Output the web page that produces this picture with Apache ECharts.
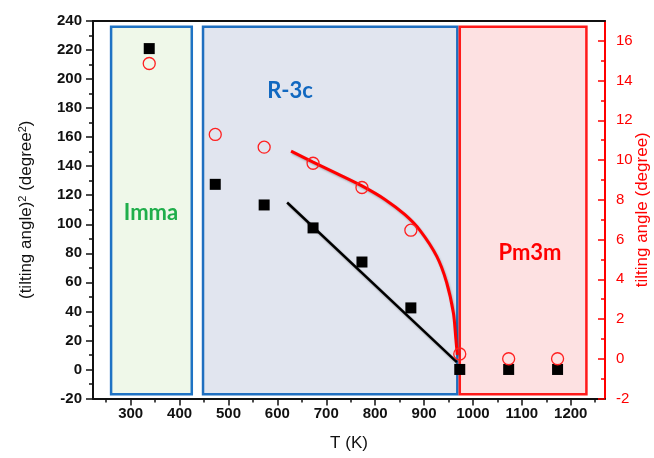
<!DOCTYPE html>
<html><head><meta charset="utf-8">
<script src="https://cdn.jsdelivr.net/npm/echarts@6/dist/echarts.min.js"></script>
<style>html,body{margin:0;padding:0;background:#fff}#c{width:654px;height:458px}</style>
</head><body><div id="c"></div>
<script>
// ---- data ----
const temps = [338, 473, 573, 673, 773, 873, 973, 1073, 1173];
const tiltSquared = [221, 127.5, 113.3, 97.5, 74, 42.4, 0, 0, 0];
const tiltAngle = [14.86, 11.29, 10.65, 9.84, 8.62, 6.47, 0.24, 0, 0];
const fitLineT = [620, 967];
const fitLineY = [115, 5];
const curveT = [628, 673, 722, 773, 820, 861, 892, 926, 946, 960, 965, 968];
const curveY = [10.45, 9.90, 9.32, 8.70, 8.02, 7.25, 6.45, 5.15, 3.85, 2.30, 1.00, 0.20];
const phaseNames = ['Imma', 'R-3c', 'Pm3m'];
const phaseT0 = [260, 448, 973];
const phaseT1 = [425, 968, 1232];
const phaseTop = [236, 236, 236];
const phaseBottom = [-17, -17, -17];
const xTickLabels = [300, 400, 500, 600, 700, 800, 900, 1000, 1100, 1200];
const xMinorTicks = [250, 350, 450, 550, 650, 750, 850, 950, 1050, 1150, 1250];
const rightTickLabels = [-2, 0, 2, 4, 6, 8, 10, 12, 14, 16];
const rightMinorTicks = [-1, 1, 3, 5, 7, 9, 11, 13, 15];

// ---- styles ----
const phaseFill = ['#eff8e9', '#e1e5ef', '#fde1e2'];
const phaseBorder = ['#1f73c4', '#1f6fc0', '#ff1a1a'];
const phaseTextColor = ['#1fae4b', '#1168c0', '#ff0000'];
const phaseTextPos = [[151, 213], [290, 91], [530, 253]];

const X_MIN = 223, X_MAX = 1270;
const chart = echarts.init(document.getElementById('c'), null, {renderer: 'canvas'});

const markAreaData = phaseNames.map((n, i) => [
  {xAxis: phaseT0[i], yAxis: phaseTop[i], itemStyle: {color: phaseFill[i], borderColor: phaseBorder[i], borderWidth: 2.5, opacity: 1}},
  {xAxis: phaseT1[i], yAxis: phaseBottom[i]}
]);

const option = {
  animation: false,
  backgroundColor: '#fff',
  grid: {left: 93, right: 49, top: 21, bottom: 59.5, containLabel: false, outerBoundsMode: 'none'},
  xAxis: [
    {
      type: 'value', min: X_MIN, max: X_MAX, position: 'bottom',
      name: 'T (K)', nameLocation: 'middle', nameGap: 36, nameMoveOverlap: false,
      nameTextStyle: {fontFamily: 'Liberation Sans', fontSize: 17, color: '#111'},
      axisLine: {show: true, onZero: false, lineStyle: {color: '#111', width: 2}},
      axisTick: {show: true, inside: false, length: 7, lineStyle: {color: '#111', width: 1.5}, customValues: xTickLabels},
      axisLabel: {show: true, margin: 8, fontFamily: 'Liberation Sans', fontWeight: 'bold', fontSize: 15, color: '#111',
        customValues: xTickLabels, formatter: v => String(v)},
      splitLine: {show: false}
    },
    {
      type: 'value', min: X_MIN, max: X_MAX, position: 'bottom',
      axisLine: {show: false, onZero: false},
      axisTick: {show: true, inside: false, length: 4, lineStyle: {color: '#111', width: 1.5}, customValues: xMinorTicks},
      axisLabel: {show: false}, splitLine: {show: false}
    },
    {
      type: 'value', min: X_MIN, max: X_MAX, position: 'top',
      axisLine: {show: true, onZero: false, lineStyle: {color: '#111', width: 2}},
      axisTick: {show: false}, axisLabel: {show: false}, splitLine: {show: false}
    }
  ],
  yAxis: [
    {
      type: 'value', min: -20, max: 240, interval: 20, position: 'left',
      name: '(tilting angle){s|2} (degree{s|2})', nameLocation: 'middle', nameGap: 57, nameRotate: 90, nameMoveOverlap: false,
      nameTextStyle: {fontFamily: 'Liberation Sans', fontSize: 17, color: '#111',
        rich: {s: {fontFamily: 'Liberation Sans', fontSize: 11, color: '#111', verticalAlign: 'bottom', padding: [0, 0, 8, 0]}}},
      axisLine: {show: true, onZero: false, lineStyle: {color: '#111', width: 2}},
      axisTick: {show: true, inside: false, length: 7, lineStyle: {color: '#111', width: 1.5}},
      minorTick: {show: true, splitNumber: 2, length: 4, lineStyle: {color: '#111', width: 1.5}},
      axisLabel: {margin: 11, fontFamily: 'Liberation Sans', fontWeight: 'bold', fontSize: 15, color: '#111'},
      splitLine: {show: false}, minorSplitLine: {show: false}
    },
    {
      type: 'value', min: -2, max: 17, position: 'right',
      name: 'tilting angle (degree)', nameLocation: 'middle', nameGap: 29, nameRotate: 90, nameMoveOverlap: false,
      nameTextStyle: {fontFamily: 'Liberation Sans', fontSize: 17, color: '#ff0000'},
      axisLine: {show: true, onZero: false, lineStyle: {color: '#ff0000', width: 2}},
      axisTick: {show: true, inside: true, length: 7, lineStyle: {color: '#ff0000', width: 1.5}, customValues: rightTickLabels},
      axisLabel: {margin: 11, fontFamily: 'Liberation Sans', fontSize: 15, color: '#ff0000', customValues: rightTickLabels},
      splitLine: {show: false}
    },
    {
      type: 'value', min: -2, max: 17, position: 'right',
      axisLine: {show: false, onZero: false},
      axisTick: {show: true, inside: true, length: 4, lineStyle: {color: '#ff0000', width: 1.5}, customValues: rightMinorTicks},
      axisLabel: {show: false}, splitLine: {show: false}
    }
  ],
  graphic: phaseNames.map((n, i) => ({
    type: 'text', x: phaseTextPos[i][0], y: phaseTextPos[i][1], z: 100,
    style: {text: n, fill: phaseTextColor[i], font: 'bold 22px Lato', align: 'center', verticalAlign: 'middle'}
  })),
  series: [
    {
      type: 'scatter', xAxisIndex: 0, yAxisIndex: 0, data: [], z: 1, silent: true,
      markArea: {silent: true, data: markAreaData}
    },
    {
      type: 'line', xAxisIndex: 0, yAxisIndex: 0, z: 5, symbol: 'none',
      data: fitLineT.map((t, i) => [t, fitLineY[i]]),
      lineStyle: {color: '#000', width: 2.5, shadowColor: 'rgba(0,0,0,0.3)', shadowBlur: 2, shadowOffsetX: 1, shadowOffsetY: 1.5}
    },
    {
      type: 'line', xAxisIndex: 0, yAxisIndex: 1, z: 5, symbol: 'none', smooth: 0.3,
      data: curveT.map((t, i) => [t, curveY[i]]),
      lineStyle: {color: '#ff0000', width: 3, shadowColor: 'rgba(0,0,0,0.25)', shadowBlur: 2, shadowOffsetX: 1, shadowOffsetY: 1.5}
    },
    {
      type: 'scatter', xAxisIndex: 0, yAxisIndex: 0, z: 6, symbol: 'rect', symbolSize: 11,
      itemStyle: {color: '#000', opacity: 1},
      data: temps.map((t, i) => [t, tiltSquared[i]])
    },
    {
      type: 'scatter', xAxisIndex: 0, yAxisIndex: 1, z: 7, symbol: 'circle', symbolSize: 12,
      itemStyle: {color: 'rgba(255,255,255,0)', borderColor: '#ff2020', borderWidth: 1.3, opacity: 1},
      data: temps.map((t, i) => [t, tiltAngle[i]])
    }
  ]
};
chart.setOption(option);
</script>
</body></html>
